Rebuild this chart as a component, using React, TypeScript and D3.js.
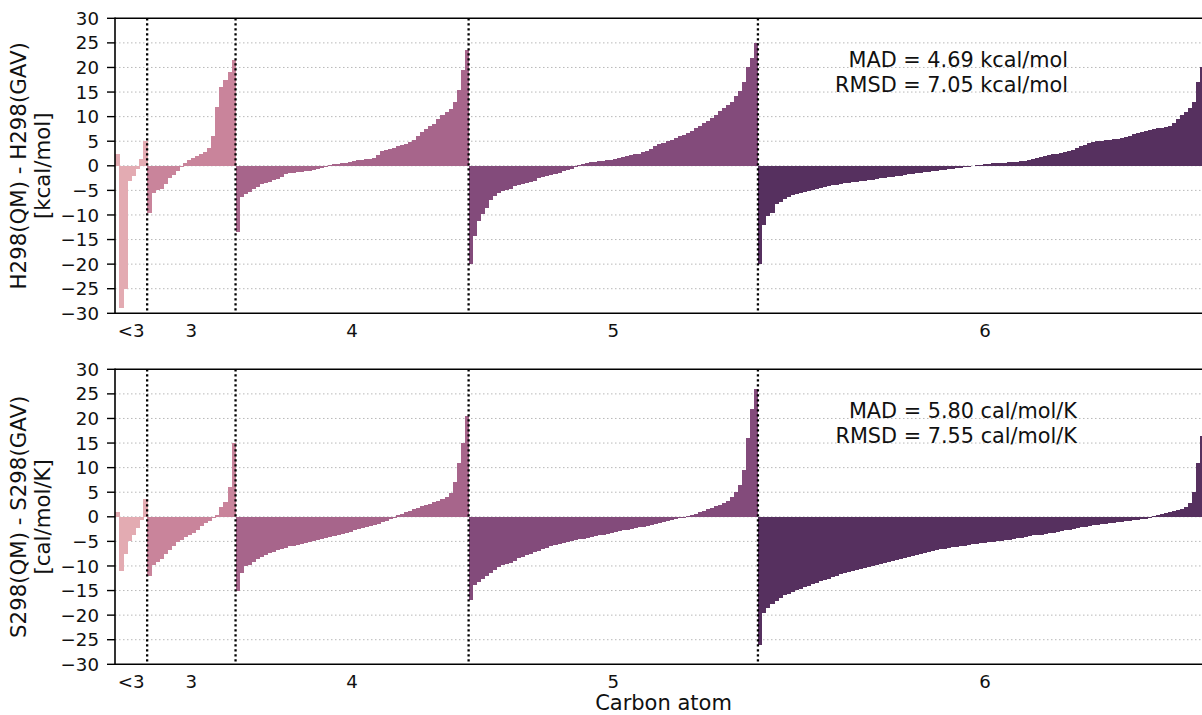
import React from "react";
import * as d3 from "d3";

// group labels and colours (cubehelix-like, light to dark)
const groupLabels = ["<3", "3", "4", "5", "6"];
const groupColors = ["#e3abb2", "#c9849b", "#a7658b", "#834b7b", "#56305f"];
const yTicks = [-30, -25, -20, -15, -10, -5, 0, 5, 10, 15, 20, 25, 30];

// H298(QM) - H298(GAV), kcal/mol, sorted within each carbon-atom group
const enthalpyLt3 = [2.5, -29, -25, -3, -2, -0.7, 1.3, 5];
const enthalpy3 = [-9.5, -5.5, -5, -4.7, -3.8, -2.5, -1.8, -1, -0.3, 0.6, 1.1, 1.5, 2, 2.4, 2.9, 3.7, 6, 12, 16, 17.5, 19, 21.5];
const enthalpy4 = [
  -13.5, -6.3, -5.8, -5.4, -4.8, -4.3, -3.8, -3.4, -3.2, -2.9,
  -2.6, -2.3, -1.6, -1.5, -1.4, -1.3, -1.2, -1.1, -1.0, -0.8,
  -0.6, -0.5, -0.3, 0.2, 0.3, 0.4, 0.5, 0.6, 0.8, 1.0,
  1.1, 1.2, 1.3, 1.4, 1.6, 2.2, 3.0, 3.2, 3.4, 3.6,
  4.0, 4.3, 4.5, 4.8, 5.3, 6.0, 6.8, 7.4, 8.0, 8.6,
  9.5, 10.3, 11.0, 11.6, 13.0, 15.5, 19.5, 23.5,
];
const enthalpy5 = [
  -20, -14.3, -11.2, -9.8, -8.6, -7, -6.2, -5.6, -5.2, -5.0,
  -4.8, -4.2, -3.9, -3.7, -3.4, -3.2, -3.0, -2.5, -2.3, -2.0,
  -1.8, -1.6, -1.4, -1.1, -0.9, -0.6, -0.3, 0.2, 0.4, 0.6,
  0.7, 0.8, 0.9, 1.0, 1.1, 1.2, 1.4, 1.5, 1.7, 1.9,
  2.1, 2.3, 2.5, 2.8, 3.1, 3.5, 4.0, 4.4, 4.7, 5.0,
  5.3, 5.6, 6.0, 6.3, 6.7, 7.1, 7.6, 8.1, 8.7, 9.2,
  9.8, 10.4, 11.1, 11.7, 12.4, 13.0, 14.2, 15.2, 17.0, 20.0, 22.0, 25.0,
];
const enthalpy6 = [
  -20, -12, -10.3, -9.5, -7.8, -7.3, -6.8, -6.3, -6.0, -5.8,
  -5.5, -5.3, -5.1, -5.0, -4.8, -4.5, -4.3, -4.2, -4.0, -3.9,
  -3.7, -3.5, -3.4, -3.3, -3.2, -3.1, -3.0, -2.9, -2.8, -2.6,
  -2.5, -2.4, -2.3, -2.2, -2.1, -2.0, -1.9, -1.7, -1.6, -1.5,
  -1.4, -1.3, -1.2, -1.1, -1.0, -0.9, -0.8, -0.7, -0.6, -0.5,
  -0.4, -0.3, -0.2, -0.1, 0.1, 0.2, 0.3, 0.4, 0.5, 0.5,
  0.6, 0.6, 0.7, 0.7, 0.8, 0.9, 1.0, 1.2, 1.3, 1.5,
  1.7, 1.9, 2.1, 2.3, 2.5, 2.7, 2.9, 3.1, 3.3, 3.6,
  4.0, 4.3, 4.6, 4.8, 5.0, 5.1, 5.2, 5.3, 5.4, 5.5,
  5.7, 5.9, 6.1, 6.4, 6.7, 6.9, 7.1, 7.3, 7.5, 7.6,
  7.7, 7.8, 8.0, 8.8, 9.6, 10.3, 11.0, 11.8, 13.0, 17.0,
  20.0, 22.0, 24.0,
];

// S298(QM) - S298(GAV), cal/mol/K
const entropyLt3 = [1.0, -11, -7.5, -5, -3.8, -2.3, -0.6, 3.6];
const entropy3 = [-12, -9.8, -9.2, -8.5, -7.6, -6.7, -5.9, -5.2, -4.7, -4.2, -3.7, -3.2, -2.7, -1.9, -1.3, -0.8, -0.2, 0.4, 2.0, 3.0, 6.0, 15];
const entropy4 = [
  -15, -11.5, -10, -9.8, -9.2, -8.6, -8.2, -7.7, -7.4, -7.1,
  -6.8, -6.5, -6.3, -6.0, -5.9, -5.7, -5.5, -5.3, -5.1, -4.9,
  -4.7, -4.5, -4.3, -4.1, -3.9, -3.6, -3.4, -3.2, -3.0, -2.7,
  -2.5, -2.3, -2.1, -1.8, -1.6, -1.4, -1.1, -0.8, -0.5, -0.2,
  0.3, 0.6, 0.9, 1.2, 1.5, 1.8, 2.1, 2.4, 2.7, 3.0,
  3.3, 3.6, 4.0, 4.8, 7.0, 11.0, 15.0, 20.5,
];
const entropy5 = [
  -17, -13.8, -13.2, -12.6, -12.0, -11.4, -10.8, -10.3, -9.8, -9.5,
  -9.3, -9.0, -8.4, -8.1, -7.8, -7.5, -7.2, -6.9, -6.6, -6.3,
  -5.9, -5.7, -5.5, -5.3, -5.1, -4.9, -4.8, -4.6, -4.5, -4.3,
  -4.2, -4.0, -3.8, -3.6, -3.4, -3.2, -3.0, -2.9, -2.7, -2.6,
  -2.4, -2.3, -2.1, -2.0, -1.8, -1.6, -1.4, -1.2, -1.0, -0.8,
  -0.6, -0.5, -0.3, -0.2, 0.1, 0.3, 0.6, 0.9, 1.2, 1.5,
  1.8, 2.1, 2.4, 2.8, 3.3, 4.0, 5.0, 6.5, 9.5, 16.0, 22.0, 26.0,
];
const entropy6 = [
  -26, -19.5, -18.5, -17.8, -17.2, -16.6, -16.0, -15.6, -15.2, -14.9,
  -14.6, -14.3, -14.0, -13.7, -13.4, -13.1, -12.8, -12.6, -12.3, -12.0,
  -11.7, -11.4, -11.2, -11.0, -10.8, -10.6, -10.4, -10.2, -10.0, -9.8,
  -9.6, -9.4, -9.2, -9.0, -8.8, -8.6, -8.4, -8.2, -8.0, -7.8,
  -7.6, -7.4, -7.2, -7.0, -6.8, -6.6, -6.5, -6.3, -6.2, -6.1,
  -6.0, -5.9, -5.7, -5.6, -5.5, -5.4, -5.3, -5.2, -5.1, -5.0,
  -4.9, -4.8, -4.7, -4.6, -4.4, -4.3, -4.1, -4.0, -3.8, -3.7,
  -3.6, -3.4, -3.3, -3.2, -3.0, -2.9, -2.7, -2.6, -2.4, -2.3,
  -2.1, -2.0, -1.8, -1.7, -1.6, -1.5, -1.4, -1.3, -1.2, -1.1,
  -1.0, -0.9, -0.8, -0.7, -0.6, -0.5, -0.4, -0.2, 0.2, 0.4,
  0.6, 0.8, 1.0, 1.2, 1.4, 1.6, 2.0, 2.8, 5.0, 11.0,
  16.5, 19, 21,
];

const enthalpyGroups = [enthalpyLt3, enthalpy3, enthalpy4, enthalpy5, enthalpy6];
const entropyGroups = [entropyLt3, entropy3, entropy4, entropy5, entropy6];

const width = 1202,
  height = 715;
const xLeft = 115,
  xRight = 1212, // axes run a bit past the picture's right edge
  panelH = 295;
const font = "DejaVu Sans";
const minus = (t) => (t < 0 ? "\u2212" + Math.abs(t) : String(t));

function Panel({ groups, top, title, unit, stats, statsX }) {
  const bars = [];
  const starts = [];
  groups.forEach((g, gi) => {
    starts.push(bars.length);
    g.forEach((v) => bars.push({ v, gi }));
  });
  const x = d3
    .scaleBand()
    .domain(d3.range(bars.length))
    .range([xLeft, xRight])
    .padding(0);
  const y = d3.scaleLinear().domain([-30, 30]).range([top + panelH, top]);
  const bw = x.bandwidth();
  const mid = top + panelH / 2;

  return (
    <g>
      {yTicks
        .filter((t) => Math.abs(t) < 30)
        .map((t) => (
          <line
            key={"g" + t}
            x1={xLeft}
            x2={width}
            y1={y(t)}
            y2={y(t)}
            stroke="#b8b8b8"
            strokeWidth={1}
            strokeDasharray="1.5,2.5"
          />
        ))}
      <g shapeRendering="crispEdges">
        {bars.map((b, i) => (
          <rect
            key={i}
            x={x(i)}
            width={bw + 0.5}
            y={Math.min(y(b.v), y(0))}
            height={Math.abs(y(b.v) - y(0))}
            fill={groupColors[b.gi]}
          />
        ))}
      </g>
      {starts.slice(1).map((s) => (
        <line
          key={"d" + s}
          x1={x(s)}
          x2={x(s)}
          y1={top}
          y2={top + panelH}
          stroke="#000"
          strokeWidth={2.3}
          strokeDasharray="2.3,2.7"
        />
      ))}
      <line x1={xLeft} x2={xLeft} y1={top - 0.8} y2={top + panelH + 0.8} stroke="#000" strokeWidth={1.6} />
      <line x1={xLeft} x2={xRight} y1={top} y2={top} stroke="#000" strokeWidth={1.6} />
      <line x1={xLeft} x2={xRight} y1={top + panelH} y2={top + panelH} stroke="#000" strokeWidth={1.6} />
      {yTicks.map((t) => (
        <g key={"t" + t}>
          <line x1={xLeft - 8} x2={xLeft} y1={y(t)} y2={y(t)} stroke="#000" strokeWidth={1.4} />
          <text
            x={xLeft - 16}
            y={y(t)}
            dy="0.36em"
            textAnchor="end"
            fontSize={18.2}
            fontFamily={font}
            fill="#111"
          >
            {minus(t)}
          </text>
        </g>
      ))}
      {groups.map((g, gi) => {
        const c = (x(starts[gi]) + x(starts[gi] + g.length - 1) + bw) / 2;
        return (
          <text
            key={"l" + gi}
            x={c}
            y={top + panelH + 23.5}
            textAnchor="middle"
            fontSize={18.2}
            fontFamily={font}
            fill="#111"
          >
            {groupLabels[gi]}
          </text>
        );
      })}
      <text fontSize={20.8} fontFamily={font} fill="#111" textAnchor="end">
        <tspan x={statsX} y={top + 48.5}>
          {stats[0]}
        </tspan>
        <tspan x={statsX} y={top + 73.5}>
          {stats[1]}
        </tspan>
      </text>
      <text
        transform={`translate(26,${mid}) rotate(-90)`}
        textAnchor="middle"
        fontSize={21.3}
        fontFamily={font}
        fill="#111"
      >
        {title}
      </text>
      <text
        transform={`translate(50,${mid}) rotate(-90)`}
        textAnchor="middle"
        fontSize={21.3}
        fontFamily={font}
        fill="#111"
      >
        {unit}
      </text>
    </g>
  );
}

export default function App() {
  return (
    <>
      <style>{"body{margin:0}"}</style>
      <svg width={width} height={height} style={{ display: "block", background: "#fff" }}>
        <Panel
          groups={enthalpyGroups}
          top={18.3}
          title="H298(QM) - H298(GAV)"
          unit="[kcal/mol]"
          stats={["MAD = 4.69 kcal/mol", "RMSD = 7.05 kcal/mol"]}
          statsX={1068}
        />
        <Panel
          groups={entropyGroups}
          top={369.3}
          title="S298(QM) - S298(GAV)"
          unit="[cal/mol/K]"
          stats={["MAD = 5.80 cal/mol/K", "RMSD = 7.55 cal/mol/K"]}
          statsX={1077}
        />
        <text x={(xLeft + xRight) / 2} y={710} textAnchor="middle" fontSize={21} fontFamily={font} fill="#111">
          Carbon atom
        </text>
      </svg>
    </>
  );
}
